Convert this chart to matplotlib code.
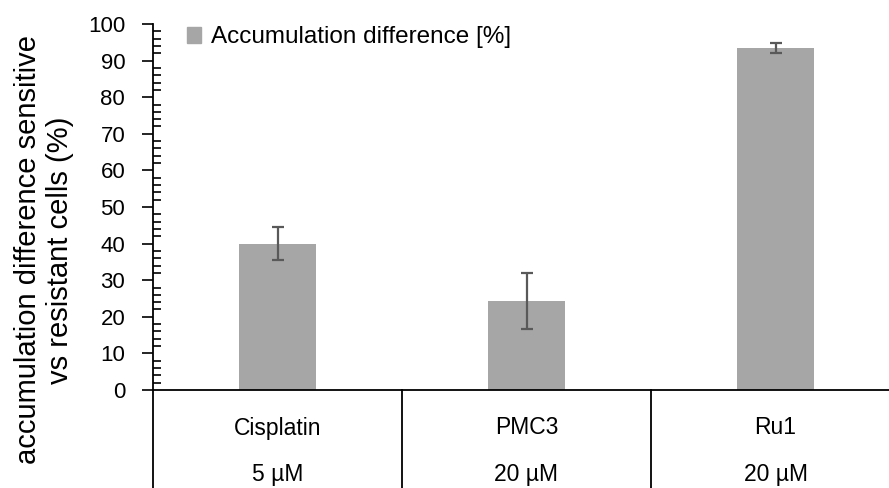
import matplotlib
matplotlib.use("Agg")
import matplotlib.pyplot as plt
from matplotlib.ticker import MultipleLocator
from matplotlib.patches import Patch
import matplotlib.transforms as mtransforms

compounds = ["Cisplatin", "PMC3", "Ru1"]
concentrations = ["5 µM", "20 µM", "20 µM"]
values = [40.0, 24.3, 93.5]
errors = [4.5, 7.6, 1.3]
series_name = "Accumulation difference [%]"
ylabel = "accumulation difference sensitive\nvs resistant cells (%)"

plt.rcParams['font.family'] = ['Liberation Sans', 'DejaVu Sans']

W, H = 889, 488
fig = plt.figure(figsize=(W / 100, H / 100), dpi=100)
x0, x1, ytop, ybot = 153, 900, 24, 390
ax = fig.add_axes([x0 / W, (H - ybot) / H, (x1 - x0) / W, (ybot - ytop) / H])

bar_color = "#a6a6a6"
xs = list(range(len(compounds)))
ax.bar(xs, values, width=0.313, color=bar_color, zorder=2)
ax.errorbar(xs, values, yerr=errors, fmt="none", ecolor="#595959",
            elinewidth=1.6, capsize=4.5, capthick=1.6, zorder=3)

ax.set_xlim(-0.5, len(compounds) - 0.5)
ax.set_ylim(0, 100)
ax.yaxis.set_major_locator(MultipleLocator(10))
ax.yaxis.set_minor_locator(MultipleLocator(2))
ax.tick_params(axis="y", which="major", direction="out", length=8, width=1.2,
               labelsize=16, pad=12)
ax.tick_params(axis="y", which="minor", direction="in", length=6, width=1.2)
ax.set_xticks([])
for s in ["top", "right"]:
    ax.spines[s].set_visible(False)
ax.spines["left"].set_linewidth(1.3)
ax.spines["bottom"].set_linewidth(1.3)

trans = mtransforms.blended_transform_factory(ax.transData, ax.transAxes)
drop = (H - ybot) / (ybot - ytop)
for b in [i - 0.5 for i in range(len(compounds) + 1)]:
    ax.plot([b, b], [0, -drop], transform=trans, color="black", lw=1.3,
            clip_on=False)
for i, (c, conc) in enumerate(zip(compounds, concentrations)):
    ax.text(i, -(428 - ybot) / (ybot - ytop), c, transform=trans,
            ha="center", va="center", fontsize=16.5)
    ax.text(i, -(475 - ybot) / (ybot - ytop), conc, transform=trans,
            ha="center", va="center", fontsize=16.5)

fig.text(44 / W, 1 - 250 / H, ylabel, rotation=90, ha="center", va="center",
         fontsize=21, linespacing=1.2)

leg = ax.legend(handles=[Patch(color=bar_color, label=series_name)],
                loc="upper left", bbox_to_anchor=((177 - x0) / (x1 - x0), 1.02),
                frameon=False, fontsize=17.5, handlelength=0.6, handleheight=0.6,
                handletextpad=0.4, borderaxespad=0)

fig.savefig("out.png", dpi=100)
